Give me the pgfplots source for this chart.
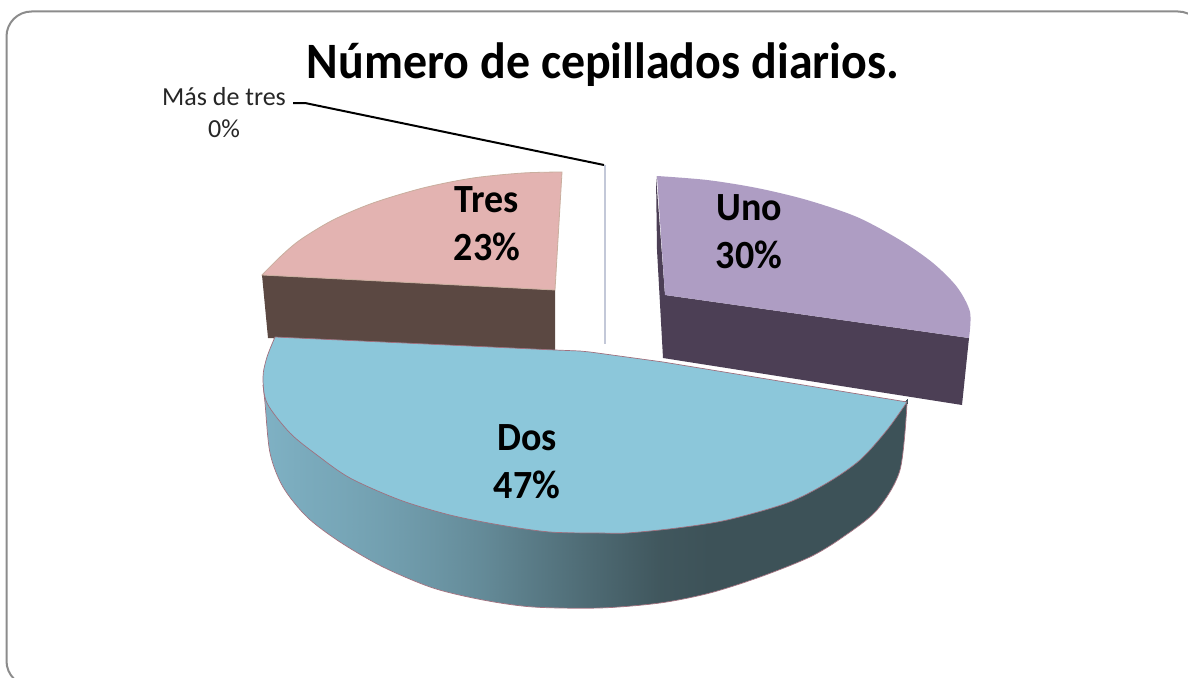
\documentclass[border=0pt]{standalone}
\usepackage{fontspec}
\setmainfont{Carlito}
\usepackage{pgfplots}
\pgfplotsset{compat=1.18}

\definecolor{lilac}{HTML}{AE9DC3}
\definecolor{lilacdark}{HTML}{4C3F55}
\definecolor{rosa}{HTML}{E3B3B1}
\definecolor{rosaedge}{HTML}{C9AE9E}
\definecolor{brown}{HTML}{5B4842}
\definecolor{cielo}{HTML}{8CC7DA}
\definecolor{dosedge}{HTML}{A0707E}
\definecolor{zeroslice}{HTML}{C3C8D8}
\definecolor{frame}{HTML}{8C8C8C}

\newcommand{\lab}[2]{\fontsize{#1}{#2}\selectfont}

\begin{document}
\begin{tikzpicture}
\begin{axis}[
    scale only axis,
    width=1188pt,
    height=677pt,
    xmin=0, xmax=1188,
    ymin=0, ymax=677,
    y dir=reverse,
    hide axis,
    clip=true,
    colormap={side}{
        rgb255(0)=(61,82,88)
        rgb255(1)=(128,179,198)
    },
    point meta min=0,
    point meta max=1,
]
% white page, so that the picture keeps the full size
\addplot[draw=none, fill=white, forget plot] coordinates {(0,0) (1188,0) (1188,677) (0,677)} -- cycle;
% slide frame, running off the page right and below
\addplot[draw=frame, line width=2pt, rounded corners=25pt, forget plot] coordinates {(6.5,11.5) (1203,11.5) (1203,686) (6.5,686)} -- cycle;

% Tres, 23%
\addplot[draw=none, fill=brown, forget plot] coordinates {
    (262,275) (268,338) (555,352) (555,290)
} -- cycle;
\addplot[smooth, draw=rosaedge, line width=0.8pt, fill=rosa, forget plot] coordinates {
    (562,172) (523,173) (473,178) (423,188) (373,203) (333,220)
    (300,240) (280,257) (262,275)
} -- (axis cs:555,290) -- cycle;

% Uno, 30%
\addplot[draw=none, fill=lilacdark, forget plot] coordinates {
    (656,176) (657,250) (663,358) (962,405) (969,338) (665,295)
} -- cycle;
\addplot[smooth, draw=none, fill=lilac, forget plot] coordinates {
    (657,176) (707,180) (757,188) (807,200) (857,217) (900,240)
    (933,263) (957,287) (970,312) (969,338)
} -- (axis cs:665,295) -- cycle;

% Mas de tres, 0%
\addplot[draw=zeroslice, line width=2pt, forget plot] coordinates {(605,165) (605,344)};

% Dos, 47%: side with its shading, cut below by a white mask, then the top
\addplot[surf, shader=interp, mesh/cols=2, point meta=explicit, forget plot]
    table[x=x, y=y, meta=c] {
    x y c
    263 380 0.97
    263 430 0.97
    270 400 0.97
    270 463 0.97
    283 420 0.95
    283 497 0.95
    307 443 0.91
    307 527 0.91
    340 468 0.87
    340 553 0.87
    383 489 0.80
    383 580 0.80
    433 505 0.70
    433 598 0.70
    483 517 0.58
    483 610 0.58
    533 525 0.42
    533 617 0.42
    600 528 0.22
    600 618 0.22
    660 525 0.05
    660 613 0.05
    710 518 0.00
    710 603 0.00
    760 507 0.00
    760 587 0.00
    810 487 0.00
    810 567 0.00
    843 467 0.00
    843 547 0.00
    877 432 0.00
    877 520 0.00
    902 404 0.00
    902 480 0.00
    907 399 0.00
    907 470 0.00
};
\addplot[smooth, draw=none, fill=white, forget plot] coordinates {
    (263,385) (265,403) (270,453) (283,487) (307,517) (340,542) (383,567)
    (433,588) (483,600) (533,607) (600,608) (660,603) (710,593) (760,577)
    (810,557) (843,537) (877,510) (900,470) (907,404)
} -- (axis cs:930,404) -- (axis cs:930,640) -- (axis cs:250,640) -- (axis cs:250,385) -- cycle;
\addplot[smooth, draw=dosedge, line width=0.7pt, forget plot] coordinates {
    (263,385) (265,403) (270,453) (283,487) (307,517) (340,542) (383,567)
    (433,588) (483,600) (533,607) (600,608) (660,603) (710,593) (760,577)
    (810,557) (843,537) (877,510) (900,470) (907,404)
};
\addplot[smooth, draw=dosedge, line width=0.7pt, fill=cielo, forget plot] coordinates {
    (907,402) (887,430) (860,460) (827,483) (787,503) (727,520) (677,528)
    (627,533) (600,533) (550,532) (500,525) (450,515) (400,500)
    (350,478) (317,455) (290,433) (267,403) (263,377) (267,357) (275,337)
} -- (axis cs:555,350) -- (axis cs:580,351) -- (axis cs:590,352) -- (axis cs:663,362) -- cycle;

% leader of the 0% slice
\addplot[black, line width=2pt, forget plot] coordinates {(293,103) (305,103) (604,165)};

% labels
\node[font=\bfseries\lab{51}{58}, inner sep=0pt, xscale=0.94] at (axis cs:603,65) {Número de cepillados diarios.};
\node[font=\lab{26}{32}, inner sep=0pt, text=black!85, align=center] at (axis cs:224,113) {Más de tres\\0\%};
\node[font=\bfseries\lab{40}{48}, inner sep=0pt, align=center, xscale=0.95] at (axis cs:749,232) {Uno\\30\%};
\node[font=\bfseries\lab{40}{48}, inner sep=0pt, align=center, xscale=0.95] at (axis cs:487,224) {Tres\\23\%};
\node[font=\bfseries\lab{40}{48}, inner sep=0pt, align=center, xscale=0.95] at (axis cs:527,462) {Dos\\47\%};
\end{axis}
\end{tikzpicture}
\end{document}
